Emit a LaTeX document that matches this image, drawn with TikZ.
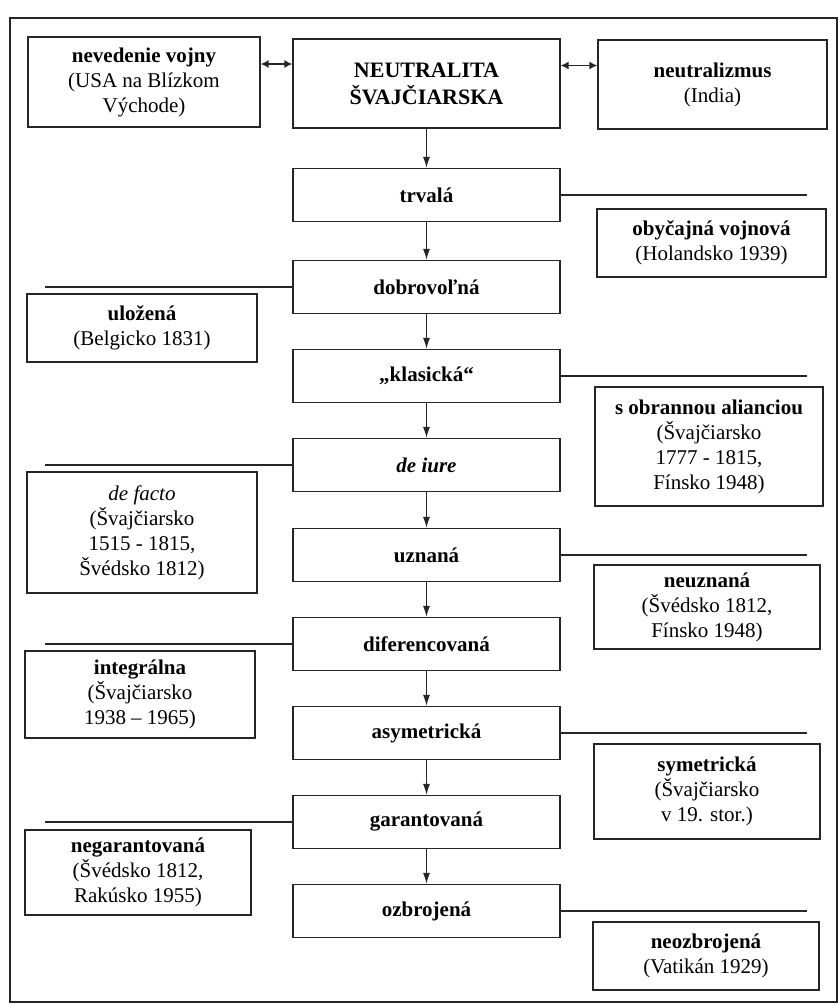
\documentclass[tikz,border=0pt]{standalone}
\usepackage{fontspec}
\setmainfont{Liberation Serif}
\usetikzlibrary{arrows.meta,positioning}
\newcommand{\boxfont}{\fontsize{21}{25}\selectfont}

\begin{document}
\begin{tikzpicture}[
  x=1pt, y=-1pt,
  font=\boxfont,
  frameline/.style={draw=black!85, line width=1.2pt},
  mainbox/.style={draw=black!85, line width=1.3pt, align=center, minimum width=267pt, minimum height=53pt, inner sep=2pt, font=\boxfont\bfseries},
  sidebox/.style={draw=black!85, line width=1.3pt, align=center, minimum width=230pt, inner sep=2pt},
  flowarrow/.style={draw=black!85, line width=1.1pt, -{Latex[length=11pt,width=7pt]}},
  linkarrow/.style={draw=black!85, line width=1.4pt, {Latex[length=8pt,width=8pt]}-{Latex[length=8pt,width=8pt]}},
  branch/.style={draw=black!85, line width=1.6pt}
]
\useasboundingbox (0,0) rectangle (838,1005);
\draw[frameline] (10,18) rectangle (837,1002);
\coordinate (lend) at (45,0);
\coordinate (rend) at (807,0);

% ============ TOP ROW ============
\node[mainbox, minimum height=89pt, font=\fontsize{22}{27}\selectfont\bfseries] (neu) at (426.5,83.5)
  {NEUTRALITA\\ŠVAJČIARSKA};
\node[sidebox, minimum width=232pt, minimum height=90pt] (nev) at (144,82)
  {\textbf{nevedenie vojny}\\(USA na Blízkom\\Východe)};
\node[sidebox, minimum width=229pt, minimum height=89pt] (ind) at (712.5,84.5)
  {\textbf{neutralizmus}\\(India)};
\draw[linkarrow] ([yshift=18pt]nev.east) -- ([yshift=18pt]nev.east -| neu.west);
\draw[linkarrow] ([yshift=18pt]neu.east) -- ([yshift=18pt]neu.east -| ind.west);

% ============ CENTRE COLUMN ============
\node[mainbox] (trv) at (426.5,195) {trvalá};
\node[mainbox] (dob) at (426.5,287) {dobrovoľná};
\node[mainbox] (kla) at (426.5,376) {„klasická“};
\node[mainbox, font=\boxfont\bfseries\itshape] (iur) at (426.5,465) {de iure};
\node[mainbox] (uzn) at (426.5,555) {uznaná};
\node[mainbox] (dif) at (426.5,644) {diferencovaná};
\node[mainbox] (asy) at (426.5,733) {asymetrická};
\node[mainbox] (gar) at (426.5,822) {garantovaná};
\node[mainbox] (ozb) at (426.5,911) {ozbrojená};

\draw[flowarrow] (neu) -- (trv);
\draw[flowarrow] (trv) -- (dob);
\draw[flowarrow] (dob) -- (kla);
\draw[flowarrow] (kla) -- (iur);
\draw[flowarrow] (iur) -- (uzn);
\draw[flowarrow] (uzn) -- (dif);
\draw[flowarrow] (dif) -- (asy);
\draw[flowarrow] (asy) -- (gar);
\draw[flowarrow] (gar) -- (ozb);

% ============ LEFT BRANCHES ============
\node[sidebox, minimum height=68pt] (ulo) at (142,328)
  {\textbf{uložená}\\(Belgicko 1831)};
\node[sidebox, minimum height=121pt] (fac) at (142,532.5)
  {\textit{de facto}\\(Švajčiarsko\\1515 - 1815,\\Švédsko 1812)};
\node[sidebox, minimum height=87pt] (int) at (140,694.5)
  {\textbf{integrálna}\\(Švajčiarsko\\1938 – 1965)};
\node[sidebox, minimum width=226pt, minimum height=85pt] (neg) at (138,872.5)
  {\textbf{negarantovaná}\\(Švédsko 1812,\\Rakúsko 1955)};

\draw[branch] (dob.west) -- (dob.west -| lend);
\draw[branch] (iur.west) -- (iur.west -| lend);
\draw[branch] (dif.west) -- (dif.west -| lend);
\draw[branch] (gar.west) -- (gar.west -| lend);

% ============ RIGHT BRANCHES ============
\node[sidebox, minimum width=229pt, minimum height=68pt] (oby) at (711.5,243)
  {\textbf{obyčajná vojnová}\\(Holandsko 1939)};
\node[sidebox, minimum width=228pt, minimum height=119pt] (obr) at (709,446.5)
  {\textbf{s obrannou alianciou}\\(Švajčiarsko\\1777 - 1815,\\Fínsko 1948)};
\node[sidebox, minimum width=226pt, minimum height=84pt] (nez) at (707,607)
  {\textbf{neuznaná}\\(Švédsko 1812,\\Fínsko 1948)};
\node[sidebox, minimum width=226pt, minimum height=95pt] (sym) at (707,791.5)
  {\textbf{symetrická}\\(Švajčiarsko\\v 19. stor.)};
\node[sidebox, minimum width=226pt, minimum height=68pt] (neo) at (706,956)
  {\textbf{neozbrojená}\\(Vatikán 1929)};

\draw[branch] (trv.east) -- (trv.east -| rend);
\draw[branch] (kla.east) -- (kla.east -| rend);
\draw[branch] (uzn.east) -- (uzn.east -| rend);
\draw[branch] (asy.east) -- (asy.east -| rend);
\draw[branch] (ozb.east) -- (ozb.east -| rend);

\end{tikzpicture}
\end{document}
